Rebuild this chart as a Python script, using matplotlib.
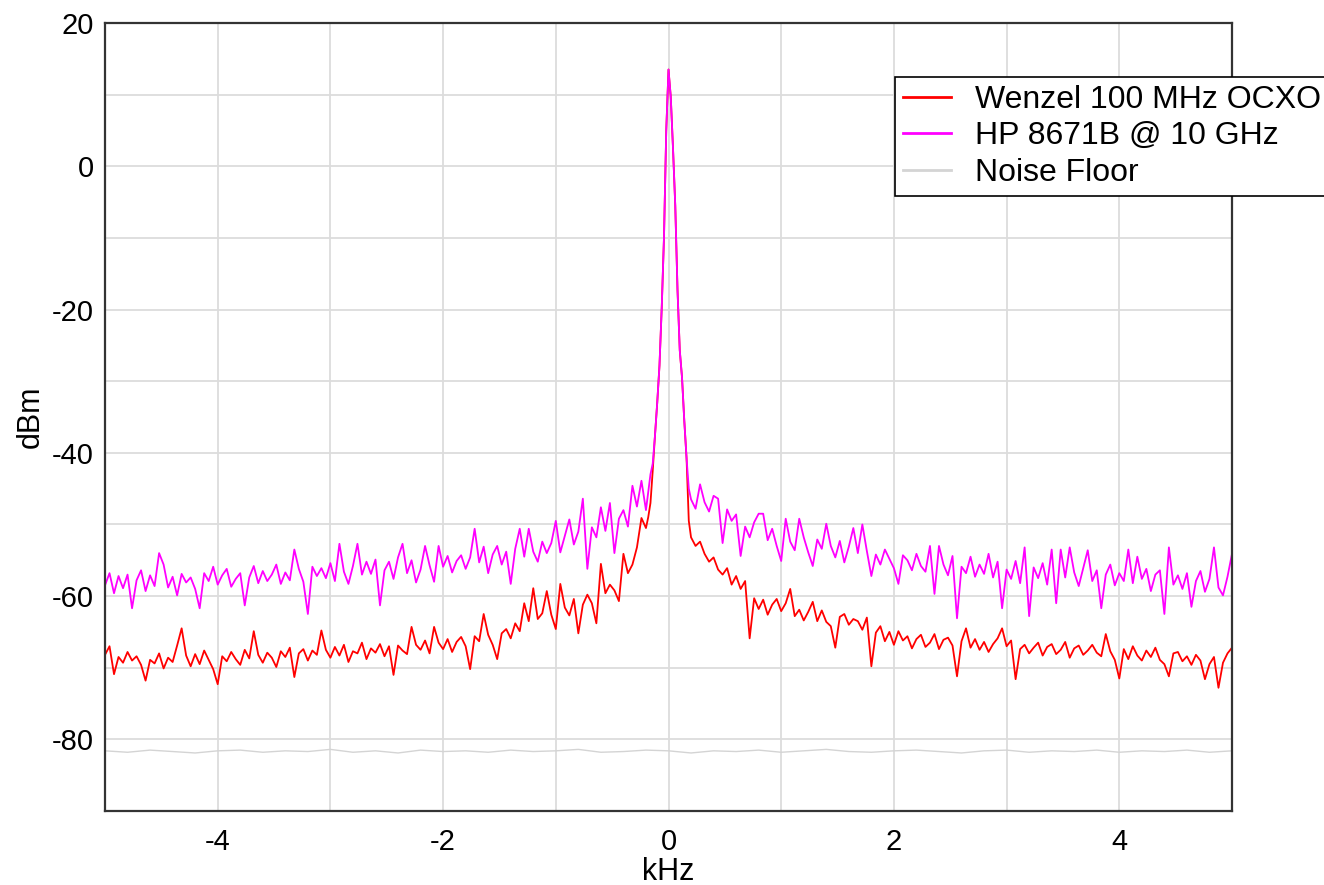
import numpy as np
import matplotlib
matplotlib.use("Agg")
import matplotlib.pyplot as plt
from matplotlib.ticker import MultipleLocator

plt.rcParams['font.family'] = ['Liberation Sans', 'DejaVu Sans']
plt.rcParams['axes.unicode_minus'] = False

########################### Data ###########################

# Wenzel 100 MHz OCXO, left skirt, -5.0 .. -0.2 kHz
wenzel_left = [
    -68.2, -67.0, -70.9, -68.5, -69.3, -67.8, -69.0, -68.4, -69.6, -71.8,
    -68.9, -69.4, -68.0, -70.1, -68.6, -69.2, -66.9, -64.5, -68.3, -69.8,
    -68.1, -69.5, -67.6, -68.9, -70.2, -72.3, -68.4, -69.1, -67.8, -68.8,
    -69.6, -67.5, -68.7, -64.9, -68.2, -69.3, -67.9, -68.6, -69.9, -67.7,
    -68.5, -67.2, -71.3, -68.0, -67.4, -69.0, -67.6, -68.2, -64.8, -67.5,
    -68.6, -67.1, -68.3, -66.8, -69.2, -67.7, -68.0, -66.5, -68.8, -67.3,
    -67.9, -66.7, -68.4, -67.0, -71.0, -66.9, -67.6, -68.1, -64.3, -66.8,
    -67.5, -66.2, -68.0, -64.3, -66.5, -67.4, -66.0, -67.8, -66.4, -65.7,
    -67.0, -70.2, -65.6, -66.3, -62.5, -65.4, -66.8, -68.8, -65.2, -64.6,
    -65.9, -63.8, -64.9, -61.0, -63.5, -58.9, -63.2, -62.4, -59.3, -62.6,
    -64.6, -58.3, -61.6, -62.7, -60.4, -65.2, -61.2, -59.8, -61.0, -63.8,
    -55.5, -59.6, -58.4, -59.2, -60.7, -54.1, -56.8, -55.6, -53.2, -49.1,
    -50.5,
]

# Wenzel, right skirt, 0.2 .. 5.0 kHz
wenzel_right = [
    -51.8, -53.0, -52.4, -54.1, -55.2, -54.6, -56.3, -57.0, -56.1, -58.4,
    -57.2, -59.0, -57.9, -65.9, -60.3, -61.8, -60.5, -62.6, -61.2, -60.4,
    -62.1, -61.0, -59.0, -62.8, -61.9, -63.4, -62.2, -60.8, -63.5, -62.0,
    -63.6, -64.2, -67.2, -62.9, -62.5, -64.0, -63.2, -63.5, -64.7, -63.0,
    -69.8, -65.1, -64.2, -66.3, -65.0, -66.8, -64.9, -66.2, -65.6, -67.3,
    -66.0, -65.4, -67.1, -66.5, -65.3, -67.4, -66.1, -65.8, -66.9, -71.2,
    -66.3, -64.5, -67.2, -66.0, -67.5, -66.4, -67.8, -66.7, -65.9, -64.5,
    -67.0, -66.2, -71.6, -67.4, -66.8, -68.0, -67.2, -66.5, -68.3, -67.1,
    -66.7, -68.1, -67.5, -66.4, -68.6, -67.3, -66.9, -68.2, -67.6, -66.8,
    -67.9, -68.4, -65.3, -67.7, -68.9, -71.5, -67.4, -68.8, -67.0, -68.3,
    -69.0, -67.6, -68.5, -67.2, -68.9, -69.5, -71.2, -68.0, -67.8, -69.1,
    -68.4, -69.6, -68.2, -69.0, -71.6, -69.5, -68.5, -72.8, -69.3, -68.0,
    -67.2,
]

# HP 8671B @ 10 GHz, left skirt, -5.0 .. -0.2 kHz
hp_left = [
    -58.5, -56.8, -59.6, -57.2, -58.9, -57.0, -61.7, -57.8, -56.4, -59.3,
    -57.1, -58.6, -54.0, -55.6, -58.8, -57.3, -59.9, -56.9, -58.1, -57.4,
    -59.0, -61.7, -56.8, -57.9, -55.9, -58.4, -57.1, -56.2, -58.7, -57.6,
    -56.8, -61.3, -57.4, -55.8, -58.2, -56.5, -57.9, -57.0, -55.6, -58.3,
    -56.7, -57.8, -53.5, -56.2, -58.0, -62.5, -55.9, -57.2, -56.1, -57.5,
    -55.4, -57.9, -52.7, -56.6, -58.3, -55.8, -52.7, -57.0, -55.2, -56.9,
    -54.9, -61.3, -56.4, -55.2, -57.6, -54.6, -52.7, -56.8, -55.0, -58.1,
    -56.3, -53.0, -55.7, -58.0, -53.0, -55.9, -54.4, -56.7, -55.1, -54.3,
    -56.2, -54.6, -50.6, -55.3, -53.1, -56.8, -54.2, -53.0, -55.6, -53.8,
    -58.3, -53.4, -50.6, -54.5, -50.6, -53.8, -55.2, -52.4, -54.0, -52.6,
    -49.5, -53.9, -51.6, -49.3, -52.8, -51.0, -46.4, -56.2, -50.4, -51.8,
    -47.6, -50.9, -47.0, -54.0, -49.2, -48.0, -50.3, -44.6, -47.5, -43.9,
    -48.0,
]

# HP 8671B, right skirt, 0.2 .. 5.0 kHz
hp_right = [
    -46.5, -47.8, -44.4, -46.9, -48.2, -46.0, -46.4, -52.6, -47.9, -49.5,
    -48.6, -54.4, -50.3, -51.8, -49.7, -48.5, -48.5, -52.2, -50.6, -53.0,
    -55.1, -49.2, -52.4, -53.6, -49.2, -51.8, -53.9, -55.8, -52.1, -53.4,
    -49.9, -53.0, -54.6, -52.3, -55.3, -53.1, -50.5, -54.0, -50.0, -53.7,
    -57.2, -54.2, -55.6, -53.5, -54.8, -56.1, -58.3, -54.3, -55.0, -56.4,
    -54.1, -55.8, -56.6, -53.0, -59.7, -53.0, -55.6, -57.1, -54.4, -63.1,
    -55.9, -56.8, -54.5, -57.3, -55.6, -56.9, -54.1, -57.4, -55.2, -61.7,
    -56.3, -57.6, -55.1, -58.2, -53.2, -62.8, -56.0, -57.5, -55.4, -58.4,
    -53.5, -61.0, -53.5, -57.4, -53.2, -56.7, -58.6, -56.1, -53.6, -57.9,
    -56.4, -61.7, -57.0, -55.6, -58.5, -56.8, -57.9, -53.5, -58.2, -54.5,
    -57.6, -56.2, -59.3, -57.0, -56.4, -62.5, -53.2, -58.4, -57.1, -59.0,
    -56.8, -61.5, -57.9, -56.5, -59.4, -57.6, -53.2, -58.8, -59.9, -57.3,
    -54.1,
]

# carrier peak, -0.18 .. 0.18 kHz in 0.02 kHz steps (both sources)
peak_freq = [-0.18, -0.16, -0.14, -0.12, -0.10, -0.08, -0.06, -0.04, -0.02, 0.0,
             0.02, 0.04, 0.06, 0.08, 0.10, 0.12, 0.14, 0.16, 0.18]
wenzel_peak = [-49.0, -47.0, -42.5, -37.6, -33.0, -27.8, -19.7, -9.9, 5.0, 13.5,
               9.7, 2.5, -5.5, -17.3, -25.7, -29.5, -35.5, -40.7, -49.5]
hp_peak = [-45.5, -43.0, -41.5, -37.6, -33.0, -27.8, -19.7, -9.9, 5.0, 13.5,
           9.7, 2.5, -5.5, -17.3, -25.7, -29.5, -35.5, -40.7, -45.0]

noise_floor = [
    -81.6, -81.8, -81.5, -81.7, -81.9, -81.6, -81.5, -81.8, -81.6, -81.7,
    -81.4, -81.8, -81.6, -81.9, -81.5, -81.7, -81.6, -81.8, -81.5, -81.7,
    -81.6, -81.4, -81.8, -81.7, -81.5, -81.6, -81.9, -81.6, -81.7, -81.5,
    -81.8, -81.6, -81.4, -81.7, -81.8, -81.6, -81.5, -81.7, -81.9, -81.6,
    -81.5, -81.8, -81.6, -81.7, -81.5, -81.8, -81.6, -81.7, -81.5, -81.8,
    -81.6,
]

########################### Assemble traces ###########################

f_left = np.linspace(-5.0, -0.2, len(hp_left))
f_right = np.linspace(0.2, 5.0, len(hp_right))
freq = np.concatenate([f_left, peak_freq, f_right])

wenzel = np.concatenate([wenzel_left, wenzel_peak, wenzel_right])
hp = np.concatenate([hp_left, hp_peak, hp_right])
f_noise = np.linspace(-5.0, 5.0, len(noise_floor))

########################### Plot ###########################

fig = plt.figure(figsize=(13.24, 8.85), dpi=100)
ax = fig.add_axes([105 / 1324, 1 - 811 / 885, 1127 / 1324, 788 / 885])

l1, = ax.plot(freq, wenzel, color='#ff0000', lw=1.3, label='Wenzel 100 MHz OCXO')
l2, = ax.plot(freq, hp, color='#ff00ff', lw=1.3, label='HP 8671B @ 10 GHz')
l3, = ax.plot(f_noise, noise_floor, color='#d4d4d4', lw=1.0, label='Noise Floor')

ax.set_xlim(-5, 5)
ax.set_ylim(-90, 20)
ax.xaxis.set_major_locator(MultipleLocator(2))
ax.xaxis.set_minor_locator(MultipleLocator(1))
ax.yaxis.set_major_locator(MultipleLocator(20))
ax.yaxis.set_minor_locator(MultipleLocator(10))
ax.grid(which='both', color='#dcdcdc', lw=1.3)
ax.set_axisbelow(True)
ax.tick_params(which='both', length=0, labelsize=21)
ax.tick_params(axis='x', pad=12)
ax.tick_params(axis='y', pad=8)

for s in ax.spines.values():
    s.set_color('#333333')
    s.set_linewidth(1.6)

ax.set_xlabel('kHz', fontsize=22)
ax.set_ylabel('dBm', fontsize=22)
ax.xaxis.set_label_coords(0.5, -0.058)
ax.yaxis.set_label_coords(-0.053, 0.5)

leg = fig.legend(handles=[l1, l2, l3], loc='upper left',
                 bbox_to_anchor=(895 / 1324, 1 - 77 / 885),
                 fontsize=23, frameon=True, fancybox=False, framealpha=1,
                 edgecolor='black', borderaxespad=0, borderpad=0.25,
                 handlelength=1.5, handletextpad=0.75, labelspacing=0.2)
leg.get_frame().set_linewidth(1.2)
for h in leg.get_lines():
    h.set_linewidth(2.0)

plt.savefig('out.png', dpi=100)
